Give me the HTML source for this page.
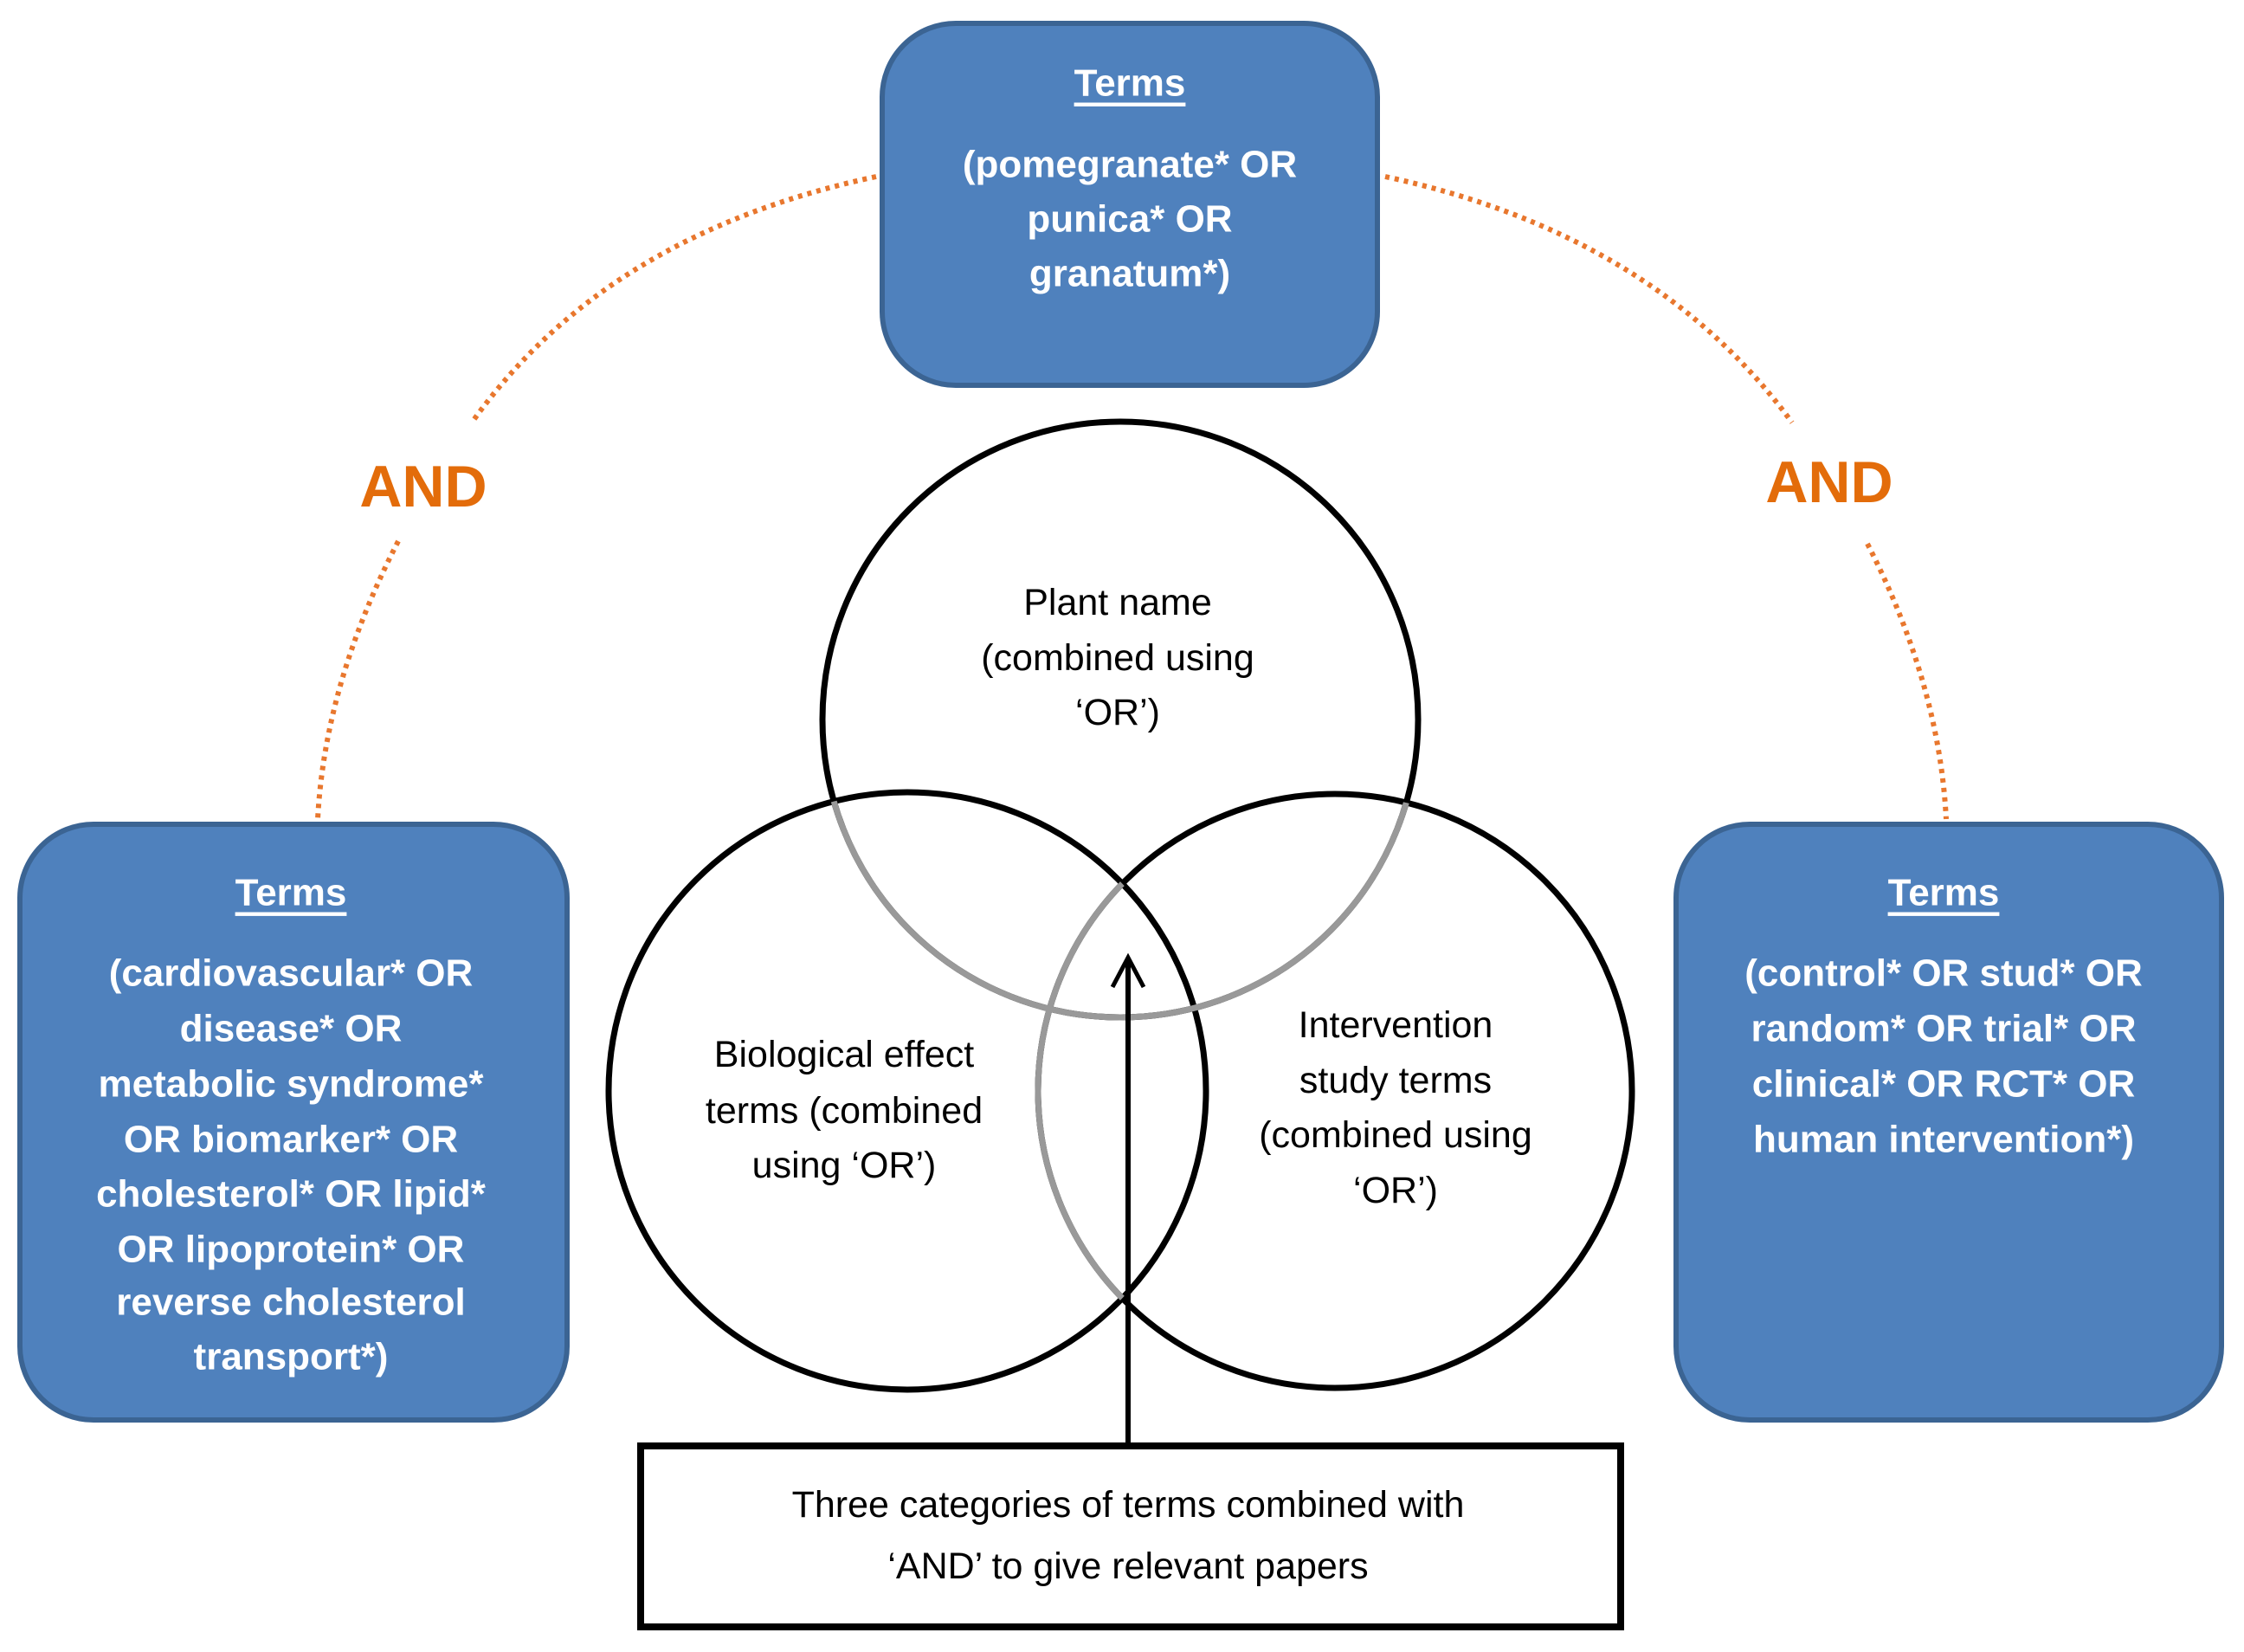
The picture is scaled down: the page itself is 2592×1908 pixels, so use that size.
<!DOCTYPE html>
<html><head><meta charset="utf-8"><style>
html,body{margin:0;padding:0;background:#fff;}
svg{display:block;}
.bx{font-family:"Liberation Sans Narrow","Liberation Sans",sans-serif;font-weight:bold;fill:#fff;font-size:44px;}
.ct{font-family:"Liberation Sans",sans-serif;fill:#000;font-size:43px;}
.and{font-family:"Liberation Sans",sans-serif;font-weight:bold;fill:#E36C0A;font-size:68px;}
</style></head><body>
<svg width="2592" height="1908" viewBox="0 0 2592 1908" xmlns="http://www.w3.org/2000/svg">
<defs>
<clipPath id="lr"><circle cx="1048" cy="1260" r="345"/><circle cx="1542" cy="1260" r="343"/></clipPath>
<clipPath id="l"><circle cx="1048" cy="1260" r="345"/></clipPath>
</defs>
<!-- dotted arcs -->
<g fill="none" stroke="#E8772E" stroke-width="6" stroke-dasharray="5 6">
<path d="M1012 204 Q700 270 545 488"/>
<path d="M460 625 Q375 790 367 946"/>
<path d="M1600 204 Q1910 270 2070 488"/>
<path d="M2157 628 Q2240 790 2248 946"/>
</g>
<text class="and" x="489" y="562" text-anchor="middle" dominant-baseline="central">AND</text>
<text class="and" x="2113" y="557" text-anchor="middle" dominant-baseline="central">AND</text>
<!-- boxes -->
<g fill="#4F81BD" stroke="#3B6493" stroke-width="6">
<rect x="1019" y="27" width="572" height="418" rx="85"/>
<rect x="23" y="952" width="632" height="688" rx="85"/>
<rect x="1936" y="952" width="630" height="688" rx="85"/>
</g>
<g class="bx" text-anchor="middle" dominant-baseline="central">
<text x="1305" y="96" text-decoration="underline">Terms</text>
<text x="1305" y="190">(pomegranate* OR</text>
<text x="1305" y="253">punica* OR</text>
<text x="1305" y="316">granatum*)</text>
<text x="336" y="1031" text-decoration="underline">Terms</text>
<text x="336" y="1124">(cardiovascular* OR</text>
<text x="336" y="1188">disease* OR</text>
<text x="336" y="1252">metabolic syndrome*</text>
<text x="336" y="1316">OR biomarker* OR</text>
<text x="336" y="1379">cholesterol* OR lipid*</text>
<text x="336" y="1443">OR lipoprotein* OR</text>
<text x="336" y="1504">reverse cholesterol</text>
<text x="336" y="1567">transport*)</text>
<text x="2245" y="1031" text-decoration="underline">Terms</text>
<text x="2245" y="1124">(control* OR stud* OR</text>
<text x="2245" y="1188">random* OR trial* OR</text>
<text x="2245" y="1252">clinical* OR RCT* OR</text>
<text x="2245" y="1316">human intervention*)</text>
</g>
<!-- circles -->
<g fill="none" stroke-width="7">
<circle cx="1294" cy="831" r="344" stroke="#000"/>
<circle cx="1048" cy="1260" r="345" stroke="#000"/>
<circle cx="1542" cy="1260" r="343" stroke="#000"/>
<circle cx="1294" cy="831" r="344" stroke="#999" clip-path="url(#lr)"/>
<circle cx="1542" cy="1260" r="343" stroke="#999" clip-path="url(#l)"/>
</g>
<g class="ct" text-anchor="middle" dominant-baseline="central">
<text x="1291" y="696">Plant name</text>
<text x="1291" y="760">(combined using</text>
<text x="1291" y="823">‘OR’)</text>
<text x="975" y="1218">Biological effect</text>
<text x="975" y="1283">terms (combined</text>
<text x="975" y="1346">using ‘OR’)</text>
<text x="1612" y="1184">Intervention</text>
<text x="1612" y="1248">study terms</text>
<text x="1612" y="1311">(combined using</text>
<text x="1612" y="1375">‘OR’)</text>
</g>
<!-- arrow -->
<line x1="1303" y1="1666" x2="1303" y2="1110" stroke="#000" stroke-width="6"/>
<polyline points="1285,1140 1303,1106 1321,1140" fill="none" stroke="#000" stroke-width="5"/>
<rect x="740" y="1670" width="1132" height="209" fill="#fff" stroke="#000" stroke-width="8"/>
<g class="ct" text-anchor="middle" dominant-baseline="central">
<text x="1303" y="1738">Three categories of terms combined with</text>
<text x="1303" y="1809">‘AND’ to give relevant papers</text>
</g>
</svg>
</body></html>
